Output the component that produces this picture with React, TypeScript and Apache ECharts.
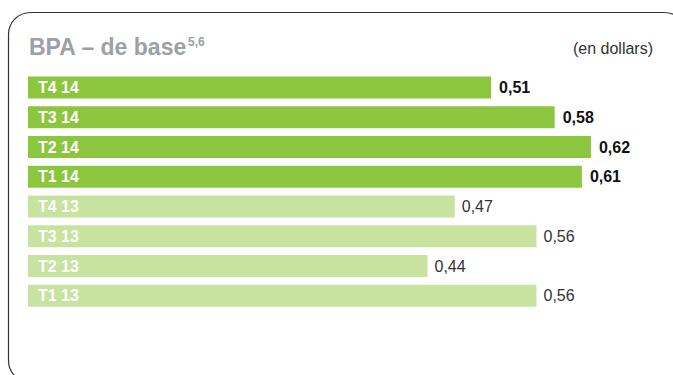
import React, { useEffect, useRef } from "react";
import * as echarts from "echarts";

const categories = ["T4 14", "T3 14", "T2 14", "T1 14", "T4 13", "T3 13", "T2 13", "T1 13"];
const values = [0.51, 0.58, 0.62, 0.61, 0.47, 0.56, 0.44, 0.56];
const isCurrentYear = [true, true, true, true, false, false, false, false];
const titleText = "BPA – de base";
const titleSup = "5,6";
const unitText = "(en dollars)";

const DARK = "#8cc63f";
const LIGHT = "#c8e3a0";
const FONT = "'Liberation Sans', Arial, Helvetica, sans-serif";

export default function App() {
  const ref = useRef<HTMLDivElement>(null);
  useEffect(() => {
    if (!ref.current) return;
    const chart = echarts.init(ref.current, null, { renderer: "svg" });
    const gridLeft = 28;
    const xMax = 0.7;
    const pxPerUnit = 908;
    const gridWidth = xMax * pxPerUnit;
    chart.setOption({
      animation: false,
      textStyle: { fontFamily: FONT },
      grid: {
        left: gridLeft,
        width: gridWidth,
        top: 72.7,
        height: 238,
        containLabel: false,
      },
      xAxis: {
        type: "value",
        min: 0,
        max: xMax,
        show: false,
      },
      yAxis: {
        type: "category",
        data: categories,
        inverse: true,
        z: 10,
        axisLine: { show: false },
        axisTick: { show: false },
        splitLine: { show: false },
        axisLabel: {
          inside: true,
          margin: 10,
          color: "#ffffff",
          fontWeight: "bold",
          fontSize: 16,
          fontFamily: FONT,
        },
      },
      series: [
        {
          type: "bar",
          barWidth: 22,
          data: values.map((v, i) => ({
            value: v,
            itemStyle: { color: isCurrentYear[i] ? DARK : LIGHT },
            label: {
              show: true,
              position: "right",
              distance: isCurrentYear[i] ? 8 : 7,
              fontSize: 16,
              fontFamily: FONT,
              fontWeight: isCurrentYear[i] ? "bold" : "normal",
              color: isCurrentYear[i] ? "#111111" : "#333333",
              formatter: (p: any) => String(p.value.toFixed(2)).replace(".", ","),
            },
          })),
        },
      ],
      graphic: [
        {
          type: "rect",
          shape: { x: 8.5, y: 12.5, width: 678, height: 370, r: 22 },
          style: { fill: "none", stroke: "#333333", lineWidth: 1.2 },
          z: -1,
        },
        {
          type: "text",
          x: 29,
          y: 34,
          style: {
            text: `{a|${titleText}}{b|${titleSup}}`,
            rich: {
              a: {
                fill: "#9da0a4",
                fontFamily: FONT,
                fontWeight: "bold",
                fontSize: 23,
                lineHeight: 24,
                verticalAlign: "bottom",
              },
              b: {
                fill: "#9da0a4",
                fontFamily: FONT,
                fontWeight: "bold",
                fontSize: 12,
                lineHeight: 12,
                verticalAlign: "top",
                padding: [2, 0, 0, 1],
              },
            },
          },
        },
        {
          type: "text",
          x: 653,
          y: 48,
          style: {
            text: unitText,
            fill: "#333333",
            font: `16px ${FONT}`,
            textAlign: "right",
            textVerticalAlign: "middle",
          },
        },
      ],
    });
    return () => chart.dispose();
  }, []);
  return (
    <div
      ref={ref}
      style={{ position: "fixed", left: 0, top: 0, width: 673, height: 375, background: "#ffffff" }}
    />
  );
}
